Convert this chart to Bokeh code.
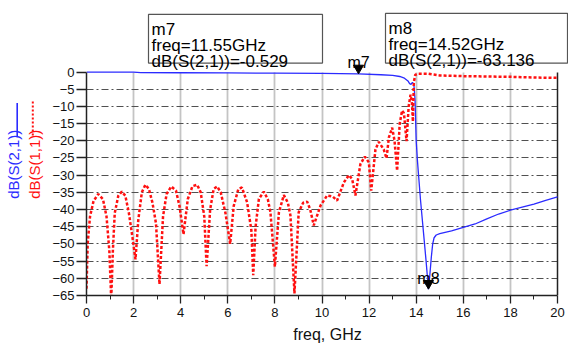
from math import pi, sqrt

from bokeh.embed import file_html
from bokeh.layouts import row
from bokeh.models import FixedTicker, Grid, Range1d
from bokeh.core.properties import value
from bokeh.plotting import figure
from bokeh.resources import INLINE

# Transmission |S21| in dB versus frequency (GHz)
freq_s21 = [0.0, 1.0, 2.0, 2.3, 4.0, 6.0, 8.0, 10.0, 11.55, 12.5, 13.0, 13.3,
            13.5, 13.65, 13.72, 13.78, 13.84, 13.9, 13.95, 14.0, 14.05, 14.18,
            14.31, 14.42, 14.52, 14.58, 14.64, 14.7, 14.76, 14.85, 15.0, 15.5,
            16.0, 16.5, 17.0, 17.5, 18.0, 18.5, 19.0, 19.5, 20.0]
db_s21 = [-0.02, -0.03, -0.05, -0.2, -0.22, -0.27, -0.33, -0.42, -0.529, -0.8,
          -0.95, -1.3, -1.8, -2.6, -3.4, -3.6, -3.0, -3.5, -8.0, -20.0, -25.5,
          -37.0, -46.7, -55.0, -63.136, -59.0, -54.0, -50.0, -48.2, -47.4,
          -47.0, -46.2, -45.2, -44.2, -42.7, -41.3, -40.2, -39.3, -38.4,
          -37.3, -36.3]

# Reflection |S11| in dB versus frequency (GHz)
freq_s11 = [0.0, 0.05, 0.15, 0.3, 0.5, 0.7, 0.85, 0.97, 1.05, 1.12, 1.2, 1.35,
            1.5, 1.65, 1.8, 1.95, 2.08, 2.2, 2.35, 2.5, 2.65, 2.8, 2.95, 3.1,
            3.25, 3.4, 3.6, 3.8, 3.95, 4.12, 4.3, 4.5, 4.7, 4.85, 5.0, 5.1,
            5.25, 5.4, 5.55, 5.7, 5.9, 6.1, 6.25, 6.45, 6.6, 6.82, 7.0, 7.08,
            7.18, 7.32, 7.53, 7.7, 7.81, 8.0, 8.17, 8.38, 8.55, 8.66, 8.83,
            9.01, 9.2, 9.37, 9.5, 9.65, 9.94, 10.22, 10.45, 10.64, 10.93, 11.14,
            11.28, 11.42, 11.63, 11.82, 11.99, 12.09, 12.27, 12.41, 12.62,
            12.74, 12.84, 12.98, 13.08, 13.19, 13.3, 13.4, 13.48, 13.59, 13.68,
            13.76, 13.82, 13.86, 13.9, 13.96, 14.05, 14.5, 15.0, 16.0, 17.0,
            18.0, 19.0, 20.0]
db_s11 = [-63.0, -50.0, -42.0, -37.5, -35.5, -37.0, -42.0, -52.0, -66.0, -52.0,
          -41.0, -36.0, -34.8, -36.0, -41.0, -48.0, -54.5, -43.0, -35.0, -32.8,
          -34.0, -38.0, -44.0, -61.7, -42.0, -35.5, -33.3, -34.5, -39.0, -47.2,
          -37.0, -33.2, -32.8, -35.0, -42.0, -56.5, -40.0, -34.0, -33.3, -35.0,
          -41.0, -50.0, -39.0, -34.0, -33.6, -37.9, -46.0, -59.1, -45.0, -36.9,
          -34.8, -37.0, -40.8, -56.6, -40.8, -35.8, -38.0, -41.7, -64.4, -40.8,
          -38.0, -37.7, -40.0, -44.6, -38.8, -35.9, -36.2, -37.4, -32.1, -30.0,
          -31.1, -35.9, -26.8, -24.6, -26.3, -34.5, -22.5, -20.3, -22.5, -25.1,
          -19.0, -16.2, -20.0, -28.7, -15.0, -11.2, -12.0, -20.1, -10.0, -6.6,
          -9.0, -14.4, -3.0, -0.8, -0.5, -0.5, -1.0, -1.2, -1.3, -1.4, -1.6,
          -1.7]

x_ticks = [0, 2, 4, 6, 8, 10, 12, 14, 16, 18, 20]
x_minor = [1, 3, 5, 7, 9, 11, 13, 15, 17, 19]
y_ticks = [0, -5, -10, -15, -20, -25, -30, -35, -40, -45, -50, -55, -60, -65]

# Marker readouts: name, frequency (GHz), S21 (dB)
marker_names = ["m7", "m8"]
marker_freq = [11.55, 14.52]
marker_db = [-0.529, -63.136]

X_MIN, X_MAX = 0, 20
Y_MIN, Y_MAX = -65, 0

BLUE = "#2b2bff"
RED = "#ff1010"
FONT = "Liberation Sans"
INK = "#111111"

# plot geometry (pixels)
W_LEFT = 48
W_MAIN = 520
H = 345
BORDER_L = 38          # y-axis panel of the main figure
BORDER_B = 48          # x-axis panel
FRAME_W = W_MAIN - BORDER_L
FRAME_H = H - BORDER_B
DATA_W = 471           # pixels spanned by 0..20 GHz
DATA_H = 225           # pixels spanned by -65..0 dB
px_x = (X_MAX - X_MIN) / DATA_W
px_y = (Y_MAX - Y_MIN) / DATA_H

# The frame reaches up to the top of the canvas and out to the right edge so that
# the marker readouts can sit above and beside the grid; axes and grids are bounded
# to the data window.
p = figure(width=W_MAIN, height=H, output_backend="svg", toolbar_location=None,
           x_range=Range1d(X_MIN, X_MIN + FRAME_W * px_x),
           y_range=Range1d(Y_MIN, Y_MIN + FRAME_H * px_y),
           min_border_left=BORDER_L, min_border_right=0, min_border_top=0,
           min_border_bottom=BORDER_B)
p.outline_line_color = None

p.xaxis.ticker = FixedTicker(ticks=x_ticks, minor_ticks=x_minor)
p.yaxis.ticker = FixedTicker(ticks=y_ticks, minor_ticks=[])
p.xaxis.bounds = (X_MIN, X_MAX)
p.yaxis.bounds = (Y_MIN, Y_MAX)
for ax in (p.xaxis, p.yaxis):
    ax.axis_line_color = "#222222"
    ax.axis_line_width = 1.5
    ax.major_tick_line_color = "#222222"
    ax.major_tick_line_width = 1.3
    ax.minor_tick_line_color = "#222222"
    ax.major_tick_in = 0
    ax.minor_tick_in = 0
    ax.major_label_text_font = FONT
    ax.major_label_text_font_size = "13px"
    ax.major_label_text_color = INK
p.xaxis.major_tick_out = 8
p.xaxis.minor_tick_out = 4
p.xaxis.major_label_standoff = 4
p.yaxis.major_tick_out = 10
p.yaxis.minor_tick_out = 0
p.yaxis.major_label_standoff = 2
p.xaxis.axis_label = "freq, GHz"
p.xaxis.axis_label_text_font = FONT
p.xaxis.axis_label_text_font_size = "16px"
p.xaxis.axis_label_text_font_style = "normal"
p.xaxis.axis_label_text_color = INK
p.xaxis.axis_label_standoff = 6

# grid
p.xgrid.ticker = FixedTicker(ticks=x_ticks[1:-1])
p.xgrid.cross_bounds = (Y_MIN, Y_MAX)
p.xgrid.grid_line_color = "#c4c4c4"
p.xgrid.grid_line_width = 1.8
p.ygrid.ticker = FixedTicker(ticks=y_ticks[1:-1])
p.ygrid.cross_bounds = (X_MIN, X_MAX)
p.ygrid.grid_line_color = "#505050"
p.ygrid.grid_line_width = 1
p.ygrid.grid_line_dash = "7 3 2 3"
# right-hand border of the data window
p.add_layout(Grid(dimension=0, ticker=FixedTicker(ticks=[X_MAX]),
                  cross_bounds=(Y_MIN, Y_MAX), grid_line_color="#222222",
                  grid_line_width=1.5))

# traces
p.line(freq_s21, db_s21, line_color=BLUE, line_width=1.3)
p.line(freq_s11, db_s11, line_color=RED, line_width=2.5, line_dash="3 2")

# markers: tip of the triangle sits on the trace value
TRI = 10
tip = (TRI / 2) * sqrt(3) * 2 / 3 * px_y
p.scatter(marker_freq, [v + tip for v in marker_db], marker="inverted_triangle",
          size=TRI, fill_color="black", line_color="black")
p.text(marker_freq, [v + 11 * px_y for v in marker_db], text=marker_names,
       text_align="center", text_baseline="alphabetic", text_font=value(FONT),
       text_font_size="16px", text_color="black")

# readout boxes (left, right, top, bottom in pixels of the page above the grid)
box_px = [(148, 322, 14, 63), (385, 567, 13, 63)]
ORIGIN_X = W_LEFT + BORDER_L
ORIGIN_Y = FRAME_H - DATA_H
for (l, r, t, b), name, f, v in zip(box_px, marker_names, marker_freq, marker_db):
    x0 = (l - ORIGIN_X) * px_x
    x1 = (r - ORIGIN_X) * px_x
    y_top = (ORIGIN_Y - t) * px_y
    y_bot = (ORIGIN_Y - b) * px_y
    p.quad(left=x0, right=x1, top=y_top, bottom=y_bot, fill_color="white",
           line_color="#555555", line_width=1.2)
    lines = [name, f"freq={f:.2f}GHz", f"dB(S(2,1))={v:.3f}"]
    p.text([x0 + 3 * px_x] * 3, [y_top - k * px_y for k in (15, 31, 47)],
           text=lines, text_align="left", text_baseline="alphabetic",
           text_font=value(FONT), text_font_size="17px", text_color="black")

# rotated trace legend at the left
lg = figure(width=W_LEFT, height=H, output_backend="svg", toolbar_location=None,
            x_range=Range1d(0, W_LEFT), y_range=Range1d(H, 0),
            x_axis_location=None, y_axis_location=None,
            min_border_left=0, min_border_right=0, min_border_top=0,
            min_border_bottom=0)
lg.outline_line_color = None
lg.xgrid.visible = False
lg.ygrid.visible = False
lg.text([12.5, 33.5], [191.5, 191.5], text=["dB(S(2,1))", "dB(S(1,1))"],
        angle=pi / 2, text_align="center", text_baseline="middle",
        text_font=value(FONT), text_font_size="15px", text_color=[BLUE, RED])
lg.line([16.7, 16.7], [120, 160], line_color=BLUE, line_width=1.6)
lg.line([32.3, 32.3], [118, 158], line_color=RED, line_width=2, line_dash="2 2")

layout = row(lg, p)
open("out.html", "w").write(file_html(layout, INLINE))
